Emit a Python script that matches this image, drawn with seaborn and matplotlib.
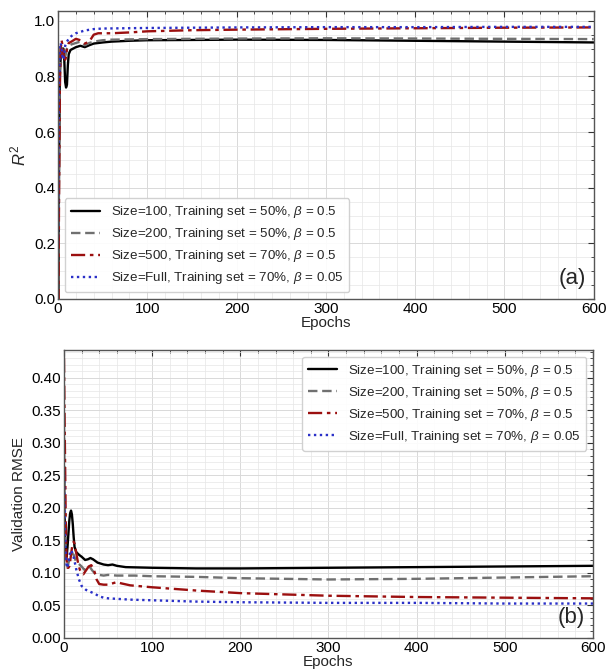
import numpy as np
import pandas as pd
import matplotlib
matplotlib.use("Agg")
import matplotlib.pyplot as plt
from matplotlib.ticker import MultipleLocator, FormatStrFormatter
import seaborn as sns

# ---- R^2 curves (epoch, value) ----
r2_ep_100 = [0, 1, 2, 3, 4, 5, 6, 7, 8, 9, 10, 11, 12, 14, 17, 20, 25, 30, 35, 40, 50, 60, 80, 100, 150, 200, 300, 400, 500, 600]
r2_val_100 = [-0.4, 0.4, 0.8, 0.87, 0.89, 0.9, 0.9, 0.86, 0.78, 0.76, 0.77, 0.84, 0.88, 0.895, 0.9, 0.905, 0.91, 0.905, 0.912, 0.918, 0.922, 0.925, 0.928, 0.93, 0.931, 0.932, 0.931, 0.928, 0.925, 0.922]

r2_ep_200 = [0, 1, 2, 3, 4, 5, 6, 7, 8, 10, 12, 15, 20, 25, 30, 35, 40, 50, 60, 80, 100, 200, 300, 400, 500, 600]
r2_val_200 = [-0.2, 0.5, 0.85, 0.9, 0.91, 0.89, 0.87, 0.86, 0.87, 0.9, 0.91, 0.915, 0.92, 0.925, 0.912, 0.92, 0.925, 0.93, 0.932, 0.933, 0.934, 0.936, 0.937, 0.936, 0.935, 0.934]

r2_ep_500 = [0, 1, 2, 3, 4, 5, 6, 7, 8, 9, 10, 12, 15, 20, 25, 30, 35, 40, 45, 60, 80, 100, 150, 200, 300, 400, 500, 600]
r2_val_500 = [-0.6, 0.3, 0.75, 0.9, 0.93, 0.91, 0.88, 0.87, 0.86, 0.87, 0.9, 0.92, 0.925, 0.935, 0.93, 0.918, 0.925, 0.95, 0.955, 0.955, 0.958, 0.962, 0.966, 0.968, 0.971, 0.973, 0.975, 0.976]

r2_ep_full = [0, 1, 2, 3, 4, 5, 6, 7, 8, 10, 12, 15, 20, 25, 30, 40, 50, 100, 200, 300, 400, 500, 600]
r2_val_full = [0.2, 0.75, 0.9, 0.92, 0.9, 0.87, 0.86, 0.88, 0.91, 0.925, 0.935, 0.945, 0.955, 0.96, 0.965, 0.97, 0.972, 0.974, 0.976, 0.977, 0.977, 0.978, 0.978]

# ---- validation RMSE curves (epoch, value) ----
rm_ep_100 = [0, 1, 2, 3, 4, 5, 6, 7, 8, 9, 10, 11, 12, 14, 17, 20, 24, 27, 30, 33, 38, 45, 50, 55, 60, 70, 100, 150, 200, 300, 400, 500, 600]
rm_val_100 = [0.25, 0.17, 0.13, 0.125, 0.14, 0.16, 0.18, 0.192, 0.196, 0.19, 0.175, 0.155, 0.14, 0.132, 0.128, 0.125, 0.12, 0.121, 0.123, 0.121, 0.116, 0.113, 0.112, 0.113, 0.111, 0.109, 0.108, 0.107, 0.107, 0.108, 0.109, 0.110, 0.111]

rm_ep_200 = [0, 1, 2, 3, 4, 5, 7, 9, 11, 13, 16, 20, 23, 26, 29, 32, 36, 40, 45, 50, 60, 80, 100, 150, 200, 300, 400, 500, 600]
rm_val_200 = [0.33, 0.2, 0.13, 0.115, 0.11, 0.115, 0.125, 0.13, 0.128, 0.12, 0.115, 0.11, 0.105, 0.108, 0.11, 0.104, 0.098, 0.097, 0.096, 0.097, 0.096, 0.096, 0.095, 0.094, 0.092, 0.09, 0.091, 0.093, 0.095]

rm_ep_500 = [0, 1, 2, 3, 4, 5, 6, 7, 8, 9, 10, 11, 12, 14, 16, 18, 20, 22, 25, 28, 31, 34, 37, 40, 45, 50, 55, 60, 65, 75, 100, 150, 200, 250, 300, 400, 500, 600]
rm_val_500 = [0.43, 0.3, 0.18, 0.12, 0.108, 0.108, 0.11, 0.118, 0.128, 0.138, 0.145, 0.148, 0.145, 0.13, 0.115, 0.105, 0.1, 0.098, 0.104, 0.11, 0.112, 0.105, 0.09, 0.083, 0.082, 0.082, 0.084, 0.086, 0.084, 0.081, 0.078, 0.073, 0.069, 0.067, 0.065, 0.063, 0.062, 0.061]

rm_ep_full = [0, 1, 2, 3, 4, 5, 6, 7, 8, 10, 12, 14, 17, 20, 25, 30, 35, 40, 45, 50, 75, 100, 150, 200, 300, 400, 500, 600]
rm_val_full = [0.26, 0.17, 0.125, 0.11, 0.108, 0.115, 0.125, 0.132, 0.135, 0.13, 0.118, 0.105, 0.09, 0.08, 0.074, 0.071, 0.068, 0.064, 0.062, 0.061, 0.059, 0.058, 0.056, 0.055, 0.054, 0.054, 0.053, 0.053]

labels = [
    r"Size=100, Training set = 50%, $\beta$ = 0.5",
    r"Size=200, Training set = 50%, $\beta$ = 0.5",
    r"Size=500, Training set = 70%, $\beta$ = 0.5",
    r"Size=Full, Training set = 70%, $\beta$ = 0.05",
]
colors = ["#000000", "#707070", "#9b0f0f", "#2a30c8"]
styles = ["-", (0, (4, 2)), (0, (6, 2, 1.5, 2)), (0, (1, 1.5))]

sns.set_theme(style="whitegrid")
plt.rcParams["font.family"] = ["Liberation Sans", "DejaVu Sans"]
plt.rcParams["mathtext.fontset"] = "custom"
plt.rcParams["mathtext.rm"] = "Liberation Sans"
plt.rcParams["mathtext.it"] = "Liberation Sans:italic"

fig = plt.figure(figsize=(6.14, 6.71), dpi=100)
ax1 = fig.add_axes([0.0945, 0.5544, 0.8725, 0.4292])
ax2 = fig.add_axes([0.1042, 0.0492, 0.8616, 0.4292])

r2_sets = [(r2_ep_100, r2_val_100), (r2_ep_200, r2_val_200), (r2_ep_500, r2_val_500), (r2_ep_full, r2_val_full)]
rm_sets = [(rm_ep_100, rm_val_100), (rm_ep_200, rm_val_200), (rm_ep_500, rm_val_500), (rm_ep_full, rm_val_full)]

for ax, sets in ((ax1, r2_sets), (ax2, rm_sets)):
    for (ep, val), lab, c, ls in zip(sets, labels, colors, styles):
        df = pd.DataFrame({"epoch": ep, "value": val})
        sns.lineplot(data=df, x="epoch", y="value", ax=ax, color=c,
                     linestyle=ls, linewidth=1.7, label=lab)

def style_axes(ax, ymax, ymajor, yminor, yfmt):
    ax.set_xlim(0, 600)
    ax.set_ylim(0, ymax)
    ax.xaxis.set_major_locator(MultipleLocator(100))
    ax.xaxis.set_minor_locator(MultipleLocator(20))
    ax.yaxis.set_major_locator(MultipleLocator(ymajor))
    ax.yaxis.set_minor_locator(MultipleLocator(yminor))
    ax.yaxis.set_major_formatter(FormatStrFormatter(yfmt))
    ax.grid(which="major", color="#d9d9d9", linewidth=0.7, linestyle="-")
    ax.grid(which="minor", color="#e6e6e6", linewidth=0.5, linestyle="-")
    ax.set_axisbelow(True)
    ax.tick_params(which="both", direction="in", top=True, right=True,
                   labelsize=11, colors="#333333", labelcolor="black", pad=2)
    ax.tick_params(which="major", length=4, width=0.8)
    ax.tick_params(which="minor", length=2, width=0.6)
    for s in ax.spines.values():
        s.set_color("#555555")
        s.set_linewidth(1.0)
    ax.set_xlabel("Epochs", fontsize=11, labelpad=0)

style_axes(ax1, 1.035, 0.2, 0.05, "%.1f")
style_axes(ax2, 0.443, 0.05, 0.01, "%.2f")

ax1.set_ylabel(r"$R^2$", fontsize=12, labelpad=4)
ax2.set_ylabel("Validation RMSE", fontsize=11, labelpad=4)

leg_kw = dict(fontsize=9.6, handlelength=2.2, labelspacing=0.45, borderpad=0.45,
              handletextpad=0.8, frameon=True, fancybox=True, framealpha=0.9,
              edgecolor="#cccccc")
ax1.legend(loc="lower left", **leg_kw)
ax2.legend(loc="upper right", **leg_kw)

ax1.text(0.985, 0.035, "(a)", transform=ax1.transAxes, ha="right", va="bottom", fontsize=16)
ax2.text(0.985, 0.035, "(b)", transform=ax2.transAxes, ha="right", va="bottom", fontsize=16)

fig.savefig("out.png", dpi=100)
